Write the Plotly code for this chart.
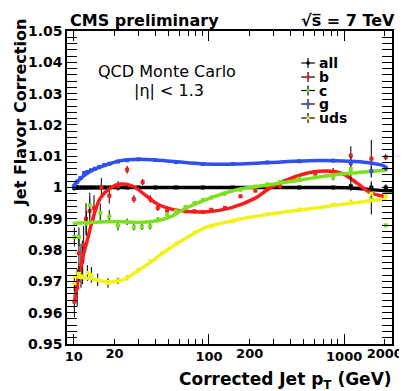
import plotly.graph_objects as go
import math

# ---------------- data ----------------
# fitted curves (pt, correction)
line_all_pt = [9.8, 15, 30, 100, 300, 800, 1200, 1600, 2000, 2260]
line_all_v = [0.9999, 1.0, 1.0, 1.0, 1.0, 1.0, 0.9998, 0.9993, 0.999, 0.999]

line_b_pt = [10.1, 11.3, 12.7, 14.1, 15.7, 18.6, 22, 27.4, 34, 42.6, 59, 93, 145, 220, 281, 444, 647, 950, 1245, 1560, 1940, 2080]
line_b_v = [0.9635, 0.9753, 0.9839, 0.9913, 0.9966, 0.9998, 1.0011, 1.0004, 0.9975, 0.9945, 0.9927, 0.9922, 0.9935, 0.9966, 0.9998, 1.0036, 1.0052, 1.0046, 1.0014, 0.9984, 0.9972, 0.9969]

line_c_pt = [9.8, 14, 20.7, 30, 40, 53, 66, 93, 161, 281, 490, 850, 1485, 2080]
line_c_v = [0.9885, 0.9889, 0.9891, 0.9888, 0.9893, 0.9908, 0.9932, 0.9960, 0.9993, 1.0009, 1.0025, 1.0041, 1.0050, 1.0056]

line_g_pt = [9.8, 11.3, 13.3, 17.6, 21.8, 30, 40, 55, 93, 161, 281, 647, 1100, 1485, 1800, 2010, 2080]
line_g_v = [1.0002, 1.0030, 1.0052, 1.0073, 1.0085, 1.0090, 1.0088, 1.0083, 1.0075, 1.0075, 1.0080, 1.0086, 1.0084, 1.0080, 1.0074, 1.0067, 1.0057]

line_uds_pt = [9.8, 13.3, 17.6, 23, 30, 38, 47, 60, 75, 93, 130, 161, 281, 490, 850, 1485, 2080]
line_uds_v = [0.9716, 0.9709, 0.9699, 0.9705, 0.9735, 0.9765, 0.9795, 0.9825, 0.9850, 0.9871, 0.9888, 0.9897, 0.9915, 0.9929, 0.9943, 0.9956, 0.9963]

# measured points (pt, correction, error)
pts_all_pt = [10.1, 10.6, 11.2, 11.9, 12.6, 13.4, 14.3, 15.4, 16.8, 18.3, 21.2, 24.8, 30, 40, 57, 90, 150, 270, 464, 830, 1120, 1590, 2030]
pts_all_v = [0.9998, 1.0, 1.0, 1.0, 1.0, 1.0, 1.0, 1.0, 1.0, 1.0, 1.0, 1.0, 1.0, 1.0, 1.0, 1.0, 1.0, 1.0, 1.0, 1.0, 1.0004, 1.0, 1.0]
pts_all_e = [0.0008, 0.0008, 0.0007, 0.0007, 0.0006, 0.0006, 0.0005, 0.0005, 0.0004, 0.0004, 0.0003, 0.0003, 0.0003, 0.0003, 0.0003, 0.0003, 0.0003, 0.0003, 0.0004, 0.0005, 0.0015, 0.002, 0.001]

pts_b_pt = [10.1, 10.6, 10.9, 11.3, 11.6, 11.8, 12.3, 13.1, 14.1, 16.0, 18.3, 21.2, 24.8, 27.8, 32.3, 36.8, 41.8, 49, 57, 67, 78, 90, 104, 131, 171, 220, 270, 335, 464, 612, 830, 1120, 1590, 2030]
pts_b_v = [0.9635, 0.968, 0.979, 0.975, 0.977, 0.9817, 0.990, 0.9925, 0.9935, 1.0, 0.9974, 1.0005, 1.0057, 0.9963, 1.0017, 0.9963, 0.9935, 0.9926, 0.9925, 0.9924, 0.9924, 0.9922, 0.9929, 0.9935, 0.9972, 0.999, 0.9998, 1.0004, 1.0025, 1.0041, 1.005, 1.0102, 1.0092, 1.0097]
pts_b_e = [0.005, 0.006, 0.006, 0.007, 0.006, 0.006, 0.005, 0.004, 0.004, 0.003, 0.0025, 0.0015, 0.0012, 0.0012, 0.001, 0.0012, 0.001, 0.0008, 0.0006, 0.0006, 0.0006, 0.0005, 0.0005, 0.0005, 0.0005, 0.0005, 0.0005, 0.0006, 0.0006, 0.0007, 0.0012, 0.003, 0.006, 0.001]

pts_c_pt = [10.1, 10.9, 12.4, 13.1, 15.7, 18.3, 21.2, 24.8, 27.8, 31.9, 36.7, 42, 49, 57, 67, 78, 90, 104, 131, 171, 220, 270, 335, 464, 612, 830, 1120, 1590, 2030]
pts_c_v = [0.9842, 0.9842, 0.9885, 0.9943, 0.9919, 0.9908, 0.9878, 0.9890, 0.9873, 0.9874, 0.9876, 0.9897, 0.9915, 0.9925, 0.9938, 0.995, 0.996, 0.9968, 0.998, 0.9993, 1.0003, 1.001, 1.0018, 1.0028, 1.0033, 1.0033, 1.0059, 0.9964, 0.9879]
pts_c_e = [0.003, 0.003, 0.004, 0.004, 0.003, 0.002, 0.0015, 0.001, 0.001, 0.001, 0.001, 0.0008, 0.0008, 0.0006, 0.0006, 0.0005, 0.0005, 0.0005, 0.0005, 0.0005, 0.0005, 0.0005, 0.0005, 0.0006, 0.0006, 0.001, 0.004, 0.005, 0.0005]

pts_g_pt = [10.1, 10.6, 11.2, 11.9, 12.6, 13.4, 14.3, 15.4, 16.8, 18.3, 21.2, 24.8, 30, 40, 57, 90, 150, 270, 464, 830, 1120, 1590, 2030]
pts_g_v = [1.0003, 1.0018, 1.003, 1.0046, 1.005, 1.0055, 1.006, 1.0066, 1.0072, 1.0076, 1.0083, 1.0087, 1.009, 1.0088, 1.0081, 1.0075, 1.0075, 1.008, 1.0084, 1.0086, 1.0078, 1.0052, 1.0062]
pts_g_e = [0.0008, 0.0008, 0.0007, 0.0007, 0.0006, 0.0006, 0.0005, 0.0005, 0.0004, 0.0004, 0.0003, 0.0003, 0.0003, 0.0003, 0.0003, 0.0003, 0.0003, 0.0003, 0.0004, 0.0005, 0.001, 0.0015, 0.0008]

pts_uds_pt = [10.1, 10.9, 11.6, 12.6, 13.5, 15.0, 17.9, 21.2, 24.8, 30, 37, 45, 57, 78, 104, 150, 270, 464, 830, 1120, 1590, 2030]
pts_uds_v = [0.9695, 0.9724, 0.9716, 0.9727, 0.9721, 0.9705, 0.9695, 0.9702, 0.9712, 0.9737, 0.9765, 0.979, 0.982, 0.9855, 0.9876, 0.9893, 0.9915, 0.993, 0.9945, 0.9953, 0.998, 0.9972]
pts_uds_e = [0.0025, 0.0025, 0.0025, 0.0025, 0.0025, 0.002, 0.0015, 0.001, 0.0008, 0.0006, 0.0005, 0.0005, 0.0005, 0.0004, 0.0004, 0.0004, 0.0004, 0.0004, 0.0005, 0.0008, 0.001, 0.0008]

series_names = ["all", "b", "c", "g", "uds"]
series_colors = ["#000000", "#ff1a1a", "#7be01e", "#2f4ff0", "#f2f21a"]

y_tickvals = [0.95, 0.96, 0.97, 0.98, 0.99, 1.0, 1.01, 1.02, 1.03, 1.04, 1.05]
y_ticktext = ["0.95", "0.96", "0.97", "0.98", "0.99", "1", "1.01", "1.02", "1.03", "1.04", "1.05"]
x_major = [10, 100, 1000]
x_labels_minor = [20, 200, 2000]
x_minor = [20, 30, 40, 50, 60, 70, 80, 90, 200, 300, 400, 500, 600, 700, 800, 900, 2000]

# ---------------- figure ----------------
FONT = "DejaVu Sans"
lines = {
    "all": (line_all_pt, line_all_v),
    "b": (line_b_pt, line_b_v),
    "c": (line_c_pt, line_c_v),
    "g": (line_g_pt, line_g_v),
    "uds": (line_uds_pt, line_uds_v),
}
points = {
    "all": (pts_all_pt, pts_all_v, pts_all_e),
    "b": (pts_b_pt, pts_b_v, pts_b_e),
    "c": (pts_c_pt, pts_c_v, pts_c_e),
    "g": (pts_g_pt, pts_g_v, pts_g_e),
    "uds": (pts_uds_pt, pts_uds_v, pts_uds_e),
}

fig = go.Figure()
for name, col in zip(series_names, series_colors):
    xa = "x2" if name == "uds" else "x"
    px_, pv, pe = points[name]
    fig.add_trace(go.Scatter(
        x=px_, y=pv, mode="markers", xaxis=xa,
        marker=dict(symbol="square", size=4, color=col),
        error_y=dict(type="data", array=pe, color="#222222", thickness=1.2, width=0),
        showlegend=False, hoverinfo="skip"))
    lx, lv = lines[name]
    fig.add_trace(go.Scatter(
        x=lx, y=lv, mode="lines", xaxis=xa,
        line=dict(color=col, width=3.5, shape="spline", smoothing=1.0),
        showlegend=False, hoverinfo="skip"))

xr = [math.log10(8.9), math.log10(2260)]

axis_common = dict(showgrid=False, zeroline=False, ticks="inside", tickcolor="black",
                   showline=True, linecolor="black", linewidth=1.5)

fig.update_layout(
    width=407, height=391,
    margin=dict(l=59, r=15, t=23, b=55),
    paper_bgcolor="white", plot_bgcolor="white",
    showlegend=False,
    font=dict(family=FONT, color="black"),
    xaxis=dict(type="log", range=xr, tickmode="array", tickvals=x_major,
               ticktext=[str(v) for v in x_major], ticklen=10, tickwidth=1.2,
               mirror="allticks",
               tickfont=dict(family=FONT, size=13, weight="bold"),
               minor=dict(tickmode="array", tickvals=x_minor, ticks="inside",
                          ticklen=5, tickcolor="black", tickwidth=1.2),
               **axis_common),
    xaxis2=dict(type="log", range=xr, overlaying="x", side="bottom", matches="x",
                tickmode="array", tickvals=x_labels_minor,
                ticktext=[str(v) for v in x_labels_minor],
                ticks="inside", ticklen=5, tickwidth=1.2, tickcolor="black",
                showgrid=False, zeroline=False, showline=False,
                tickfont=dict(family=FONT, size=13, weight="bold")),
    yaxis=dict(range=[0.95, 1.05], tickmode="array", tickvals=y_tickvals,
               ticktext=y_ticktext, ticklen=10, tickwidth=1.2, mirror="allticks",
               tickfont=dict(family=FONT, size=14, weight="bold"),
               minor=dict(dtick=0.002, ticks="inside", ticklen=5,
                          tickcolor="black", tickwidth=1.2),
               **axis_common),
)

# pixel -> paper helpers
def px(xp):
    return (xp - 59) / 333.0

def py(yp):
    return (336 - yp) / 313.0

ann = []
ann.append(dict(text="CMS preliminary", x=px(60), y=py(12), xref="paper", yref="paper",
                xanchor="left", yanchor="middle", showarrow=False,
                font=dict(family=FONT, size=16, weight="bold")))
ann.append(dict(text="√s\u0305 = 7 TeV", x=px(397), y=py(12), xref="paper", yref="paper",
                xanchor="right", yanchor="middle", showarrow=False,
                font=dict(family=FONT, size=16, weight="bold")))
ann.append(dict(text="QCD Monte Carlo", x=px(161), y=py(63), xref="paper", yref="paper",
                xanchor="center", yanchor="middle", showarrow=False,
                font=dict(family=FONT, size=16)))
ann.append(dict(text="|η| < 1.3", x=px(163), y=py(82), xref="paper", yref="paper",
                xanchor="center", yanchor="middle", showarrow=False,
                font=dict(family=FONT, size=16)))
ann.append(dict(text="Jet Flavor Correction", x=px(12), y=py(105), xref="paper", yref="paper",
                xanchor="center", yanchor="middle", textangle=-90, showarrow=False,
                font=dict(family=FONT, size=16, weight="bold")))
ann.append(dict(text="Corrected Jet p<sub>T</sub> (GeV)", x=px(394), y=py(372),
                xref="paper", yref="paper", xanchor="right", yanchor="middle",
                showarrow=False, font=dict(family=FONT, size=17, weight="bold")))

shapes = []
leg_y = [55, 69, 82.5, 96, 110]
for name, col, ly in zip(series_names, series_colors, leg_y):
    ann.append(dict(text=name, x=px(315), y=py(ly), xref="paper", yref="paper",
                    xanchor="left", yanchor="middle", showarrow=False,
                    font=dict(family=FONT, size=14, weight="bold")))
    shapes.append(dict(type="line", xref="paper", yref="paper",
                       x0=px(299), x1=px(313), y0=py(ly), y1=py(ly),
                       line=dict(color="black", width=1.2)))
    shapes.append(dict(type="line", xref="paper", yref="paper",
                       x0=px(306), x1=px(306), y0=py(ly - 5), y1=py(ly + 5),
                       line=dict(color="black", width=1.2)))
    shapes.append(dict(type="rect", xref="paper", yref="paper",
                       x0=px(304.5), x1=px(307.5), y0=py(ly - 1.5), y1=py(ly + 1.5),
                       fillcolor=col, line=dict(width=0)))

fig.update_layout(annotations=ann, shapes=shapes)
fig.write_html("out.html")
